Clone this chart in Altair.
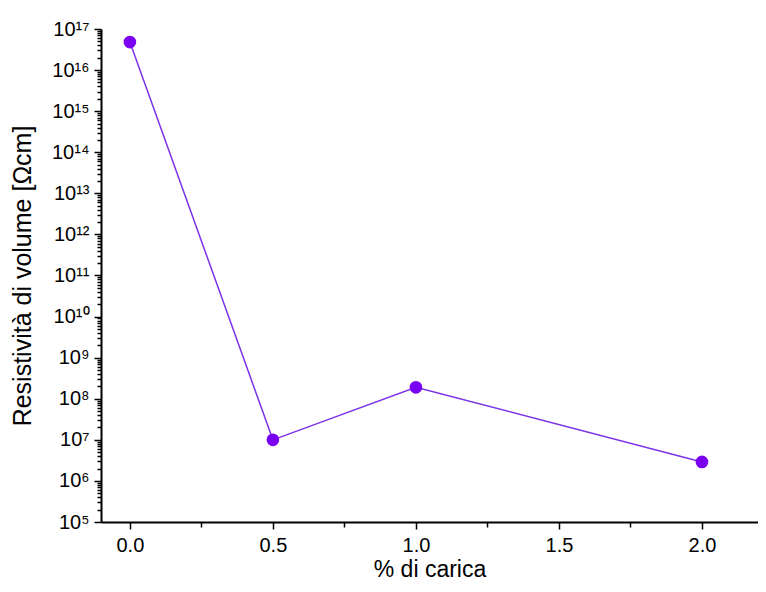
import altair as alt
import pandas as pd

# data
carica = [0.0, 0.5, 1.0, 2.0]
resistivita = [4.8e16, 1.0e7, 1.9e8, 2.9e6]

y_exponents = list(range(5, 18))
y_tick_labels = ['10⁵', '10⁶', '10⁷', '10⁸', '10⁹', '10¹⁰', '10¹¹', '10¹²',
                 '10¹³', '10¹⁴', '10¹⁵', '10¹⁶', '10¹⁷']
y_major = [10 ** e for e in y_exponents]
y_minor = [m * 10 ** e for e in range(5, 17) for m in range(2, 10)]
x_major = [0.0, 0.5, 1.0, 1.5, 2.0]
x_minor = [0.25, 0.75, 1.25, 1.75]

df = pd.DataFrame({"carica": carica, "res": resistivita})

labels_js = "[" + ",".join("'" + s + "'" for s in y_tick_labels) + "]"
is_major_y = "abs(log(datum.value)/LN10 - round(log(datum.value)/LN10)) < 0.001"
y_label_expr = f"{is_major_y} ? {labels_js}[round(log(datum.value)/LN10) - 5] : ''"
is_major_x = "abs(datum.value*2 - round(datum.value*2)) < 0.001"
x_label_expr = f"{is_major_x} ? format(datum.value, '.1f') : ''"

xscale = alt.Scale(domain=[-0.101, 2.196], nice=False, zero=False)
yscale = alt.Scale(type="log", domain=[1e5, 1e17], nice=False)

x_enc = alt.X(
    "carica:Q", scale=xscale,
    axis=alt.Axis(
        values=x_major + x_minor, labelExpr=x_label_expr, title="% di carica",
        tickSize={"condition": {"test": is_major_x, "value": 7}, "value": 5},
        labelPadding=6, titlePadding=3, labelFontSize=20, titleFontSize=23,
    ),
)
y_enc = alt.Y(
    "res:Q", scale=yscale,
    axis=alt.Axis(
        values=y_major + y_minor, labelExpr=y_label_expr,
        title="Resistività di volume [Ωcm]",
        tickSize={"condition": {"test": is_major_y, "value": 7}, "value": 4},
        labelPadding=5, titlePadding=16, labelFontSize=20, titleFontSize=25,
    ),
)

line = alt.Chart(df).mark_line(color="#7d33e8", strokeWidth=1.5).encode(x=x_enc, y=y_enc)
points = alt.Chart(df).mark_circle(size=160, color="#7a00f2", opacity=1).encode(
    x="carica:Q", y="res:Q"
)

chart = (
    alt.layer(line, points)
    .properties(
        width=657, height=493,
        autosize=alt.AutoSizeParams(type="none"),
        padding={"left": 93, "top": 21, "right": 0, "bottom": 62},
    )
    .configure_view(stroke=None)
    .configure_axis(
        grid=False, domainColor="black", domainWidth=2, tickColor="black",
        tickWidth=1.5, labelColor="black", titleColor="black",
        labelFont="Liberation Sans", titleFont="Liberation Sans",
        titleFontWeight="normal",
    )
)

chart.save("out.html", embed_options={"renderer": "svg", "actions": False})
